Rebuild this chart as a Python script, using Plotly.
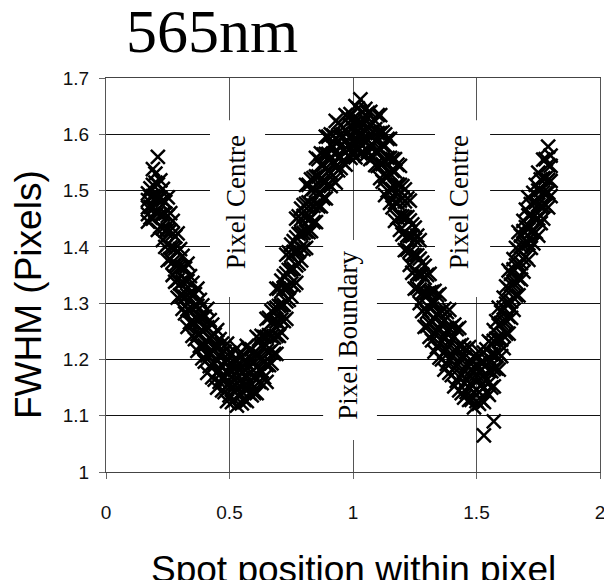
import plotly.graph_objects as go

# Column set A of the cloud (spot position, pixels)
x_pos_a = [0.17, 0.19, 0.21, 0.23, 0.25, 0.27, 0.29, 0.31, 0.33, 0.35,
           0.37, 0.39, 0.41, 0.43, 0.45, 0.47, 0.49, 0.51, 0.53, 0.55,
           0.57, 0.59, 0.61, 0.63, 0.65, 0.67, 0.69, 0.71, 0.73, 0.75,
           0.77, 0.79, 0.81, 0.83, 0.85, 0.87, 0.89, 0.91, 0.93, 0.95,
           0.97, 0.99, 1.01, 1.03, 1.05, 1.07, 1.09, 1.11, 1.13, 1.15,
           1.17, 1.19, 1.21, 1.23, 1.25, 1.27, 1.29, 1.31, 1.33, 1.35,
           1.37, 1.39, 1.41, 1.43, 1.45, 1.47, 1.49, 1.51, 1.53, 1.55,
           1.57, 1.59, 1.61, 1.63, 1.65, 1.67, 1.69, 1.71, 1.73, 1.75,
           1.77, 1.79]
# FWHM (pixels), from the bottom of the band to its top
fwhm_a1 = [1.445, 1.450, 1.430, 1.412, 1.376, 1.350, 1.310, 1.290, 1.258, 1.242,
           1.215, 1.202, 1.176, 1.168, 1.150, 1.145, 1.126, 1.124, 1.118, 1.122,
           1.126, 1.136, 1.140, 1.158, 1.160, 1.193, 1.210, 1.248, 1.272, 1.312,
           1.336, 1.376, 1.398, 1.428, 1.444, 1.472, 1.486, 1.508, 1.514, 1.540,
           1.546, 1.558, 1.559, 1.566, 1.562, 1.556, 1.545, 1.522, 1.492, 1.478,
           1.446, 1.430, 1.394, 1.368, 1.326, 1.300, 1.258, 1.240, 1.214, 1.203,
           1.182, 1.176, 1.152, 1.145, 1.132, 1.128, 1.115, 1.121, 1.124, 1.137,
           1.152, 1.182, 1.220, 1.246, 1.288, 1.314, 1.356, 1.377, 1.406, 1.420,
           1.450, 1.470]
fwhm_a2 = [1.458, 1.470, 1.461, 1.433, 1.405, 1.373, 1.341, 1.313, 1.289, 1.265,
           1.245, 1.225, 1.207, 1.191, 1.178, 1.166, 1.154, 1.147, 1.145, 1.143,
           1.149, 1.155, 1.165, 1.179, 1.190, 1.216, 1.242, 1.271, 1.303, 1.335,
           1.367, 1.399, 1.427, 1.451, 1.475, 1.495, 1.515, 1.531, 1.543, 1.560,
           1.568, 1.576, 1.581, 1.583, 1.585, 1.577, 1.569, 1.547, 1.525, 1.503,
           1.479, 1.455, 1.426, 1.392, 1.358, 1.324, 1.290, 1.264, 1.246, 1.228,
           1.214, 1.200, 1.185, 1.169, 1.158, 1.150, 1.142, 1.142, 1.150, 1.158,
           1.183, 1.211, 1.242, 1.276, 1.310, 1.344, 1.378, 1.406, 1.428, 1.450,
           1.472, 1.497]
fwhm_a3 = [1.470, 1.490, 1.486, 1.458, 1.430, 1.398, 1.366, 1.338, 1.314, 1.290,
           1.270, 1.250, 1.232, 1.216, 1.200, 1.188, 1.176, 1.169, 1.167, 1.165,
           1.171, 1.177, 1.187, 1.201, 1.215, 1.241, 1.267, 1.296, 1.328, 1.360,
           1.392, 1.424, 1.452, 1.476, 1.500, 1.520, 1.540, 1.556, 1.568, 1.580,
           1.588, 1.596, 1.601, 1.603, 1.605, 1.597, 1.589, 1.574, 1.552, 1.530,
           1.506, 1.482, 1.453, 1.419, 1.385, 1.351, 1.317, 1.291, 1.273, 1.255,
           1.241, 1.227, 1.212, 1.196, 1.180, 1.172, 1.164, 1.164, 1.172, 1.180,
           1.208, 1.236, 1.267, 1.301, 1.335, 1.369, 1.403, 1.431, 1.453, 1.475,
           1.497, 1.519]
fwhm_a4 = [1.483, 1.510, 1.511, 1.483, 1.455, 1.423, 1.391, 1.363, 1.339, 1.315,
           1.295, 1.275, 1.257, 1.241, 1.223, 1.211, 1.199, 1.192, 1.190, 1.188,
           1.194, 1.200, 1.210, 1.224, 1.240, 1.266, 1.292, 1.321, 1.353, 1.385,
           1.417, 1.449, 1.477, 1.501, 1.525, 1.545, 1.565, 1.581, 1.593, 1.600,
           1.608, 1.616, 1.621, 1.623, 1.625, 1.617, 1.609, 1.602, 1.580, 1.558,
           1.534, 1.510, 1.481, 1.447, 1.413, 1.379, 1.345, 1.319, 1.301, 1.283,
           1.269, 1.255, 1.240, 1.224, 1.203, 1.195, 1.187, 1.187, 1.195, 1.203,
           1.233, 1.261, 1.292, 1.326, 1.360, 1.394, 1.428, 1.456, 1.478, 1.500,
           1.522, 1.545]
fwhm_a5 = [1.495, 1.538, 1.560, 1.503, 1.488, 1.446, 1.424, 1.384, 1.370, 1.336,
           1.326, 1.296, 1.290, 1.262, 1.252, 1.228, 1.228, 1.210, 1.220, 1.206,
           1.224, 1.218, 1.240, 1.242, 1.272, 1.286, 1.326, 1.340, 1.386, 1.404,
           1.450, 1.468, 1.510, 1.520, 1.558, 1.566, 1.596, 1.600, 1.624, 1.616,
           1.634, 1.636, 1.650, 1.662, 1.645, 1.640, 1.624, 1.634, 1.600, 1.592,
           1.556, 1.544, 1.502, 1.482, 1.434, 1.412, 1.366, 1.352, 1.322, 1.316,
           1.290, 1.288, 1.262, 1.256, 1.220, 1.222, 1.206, 1.214, 1.212, 1.232,
           1.252, 1.292, 1.310, 1.358, 1.378, 1.426, 1.446, 1.488, 1.496, 1.532,
           1.555, 1.578]

# Column set B of the cloud (in between set A)
x_pos_b = [0.18, 0.20, 0.22, 0.24, 0.26, 0.28, 0.30, 0.32, 0.34, 0.36,
           0.38, 0.40, 0.42, 0.44, 0.46, 0.48, 0.50, 0.52, 0.54, 0.56,
           0.58, 0.60, 0.62, 0.64, 0.66, 0.68, 0.70, 0.72, 0.74, 0.76,
           0.78, 0.80, 0.82, 0.84, 0.86, 0.88, 0.90, 0.92, 0.94, 0.96,
           0.98, 1.00, 1.02, 1.04, 1.06, 1.08, 1.10, 1.12, 1.14, 1.16,
           1.18, 1.20, 1.22, 1.24, 1.26, 1.28, 1.30, 1.32, 1.34, 1.36,
           1.38, 1.40, 1.42, 1.44, 1.46, 1.48, 1.50, 1.52, 1.54, 1.56,
           1.58, 1.60, 1.62, 1.64, 1.66, 1.68, 1.70, 1.72, 1.74, 1.76,
           1.78, 1.80]
fwhm_b1 = [1.452, 1.462, 1.436, 1.400, 1.378, 1.338, 1.314, 1.282, 1.266, 1.236,
           1.224, 1.196, 1.188, 1.164, 1.160, 1.142, 1.136, 1.128, 1.134, 1.128,
           1.140, 1.140, 1.160, 1.168, 1.190, 1.210, 1.242, 1.268, 1.306, 1.332,
           1.370, 1.396, 1.426, 1.444, 1.472, 1.486, 1.512, 1.518, 1.536, 1.550,
           1.562, 1.566, 1.572, 1.568, 1.570, 1.558, 1.544, 1.516, 1.500, 1.470,
           1.452, 1.422, 1.395, 1.354, 1.327, 1.286, 1.259, 1.234, 1.222, 1.200,
           1.192, 1.172, 1.162, 1.140, 1.142, 1.128, 1.126, 1.128, 1.142, 1.150,
           1.184, 1.206, 1.246, 1.274, 1.314, 1.342, 1.382, 1.398, 1.426, 1.442,
           1.474, 1.490]
fwhm_b2 = [1.471, 1.487, 1.457, 1.429, 1.399, 1.367, 1.335, 1.311, 1.287, 1.265,
           1.245, 1.225, 1.209, 1.193, 1.181, 1.169, 1.157, 1.155, 1.153, 1.155,
           1.161, 1.167, 1.181, 1.195, 1.213, 1.239, 1.265, 1.297, 1.329, 1.361,
           1.393, 1.425, 1.449, 1.473, 1.495, 1.515, 1.535, 1.547, 1.559, 1.572,
           1.580, 1.588, 1.590, 1.592, 1.589, 1.581, 1.569, 1.547, 1.525, 1.502,
           1.478, 1.454, 1.420, 1.386, 1.352, 1.318, 1.284, 1.266, 1.248, 1.232,
           1.218, 1.204, 1.188, 1.172, 1.163, 1.155, 1.147, 1.155, 1.163, 1.179,
           1.207, 1.235, 1.269, 1.303, 1.337, 1.371, 1.405, 1.427, 1.449, 1.471,
           1.495, 1.517]
fwhm_b3 = [1.489, 1.514, 1.487, 1.459, 1.429, 1.397, 1.365, 1.341, 1.317, 1.295,
           1.275, 1.255, 1.239, 1.223, 1.208, 1.196, 1.184, 1.182, 1.180, 1.182,
           1.188, 1.194, 1.208, 1.222, 1.243, 1.269, 1.295, 1.327, 1.359, 1.391,
           1.423, 1.455, 1.479, 1.503, 1.525, 1.545, 1.565, 1.577, 1.589, 1.596,
           1.604, 1.612, 1.614, 1.616, 1.613, 1.605, 1.602, 1.580, 1.558, 1.535,
           1.511, 1.487, 1.453, 1.419, 1.385, 1.351, 1.317, 1.299, 1.281, 1.265,
           1.251, 1.237, 1.221, 1.205, 1.190, 1.182, 1.174, 1.182, 1.190, 1.209,
           1.237, 1.265, 1.299, 1.333, 1.367, 1.401, 1.435, 1.457, 1.479, 1.501,
           1.522, 1.544]
fwhm_b4 = [1.504, 1.530, 1.518, 1.480, 1.460, 1.418, 1.396, 1.362, 1.348, 1.316,
           1.306, 1.276, 1.270, 1.244, 1.236, 1.214, 1.212, 1.200, 1.208, 1.198,
           1.216, 1.212, 1.236, 1.240, 1.274, 1.290, 1.326, 1.348, 1.390, 1.410,
           1.454, 1.474, 1.510, 1.522, 1.556, 1.564, 1.596, 1.598, 1.620, 1.612,
           1.630, 1.628, 1.646, 1.640, 1.638, 1.620, 1.634, 1.604, 1.592, 1.556,
           1.546, 1.508, 1.486, 1.440, 1.420, 1.372, 1.350, 1.320, 1.314, 1.286,
           1.284, 1.258, 1.254, 1.226, 1.218, 1.198, 1.202, 1.196, 1.218, 1.228,
           1.268, 1.284, 1.330, 1.352, 1.398, 1.420, 1.466, 1.476, 1.510, 1.520,
           1.556, 1.562]

# Two low outliers in the second trough
x_outlier = [1.53, 1.57]
fwhm_outlier = [1.065, 1.090]

x_ticks = [0, 0.5, 1, 1.5, 2]
y_ticks = [1, 1.1, 1.2, 1.3, 1.4, 1.5, 1.6, 1.7]

label_text = ["Pixel Centre", "Pixel Boundary", "Pixel Centre"]
label_x = [0.526, 0.980, 1.429]
label_y = [1.479, 1.242, 1.479]
box_x0 = [0.421, 0.879, 1.332]
box_x1 = [0.644, 1.097, 1.555]
box_y0 = [1.311, 1.057, 1.311]
box_y1 = [1.625, 1.412, 1.625]

all_x = x_pos_a * 5 + x_pos_b * 4 + x_outlier
all_y = (fwhm_a1 + fwhm_a2 + fwhm_a3 + fwhm_a4 + fwhm_a5
         + fwhm_b1 + fwhm_b2 + fwhm_b3 + fwhm_b4 + fwhm_outlier)

fig = go.Figure()
fig.add_trace(go.Scatter(
    x=all_x, y=all_y, mode="markers",
    marker=dict(symbol="x-thin", size=14, color="black",
                line=dict(color="black", width=2.5)),
    showlegend=False, hoverinfo="skip"))

shapes = []
for i in range(len(label_text)):
    shapes.append(dict(type="rect", xref="x", yref="y",
                       x0=box_x0[i], x1=box_x1[i], y0=box_y0[i], y1=box_y1[i],
                       fillcolor="white", line=dict(width=0), layer="between"))

annotations = []
for i in range(len(label_text)):
    annotations.append(dict(x=label_x[i], y=label_y[i], xref="x", yref="y",
                            text=label_text[i], showarrow=False, textangle=-90,
                            font=dict(family="Liberation Serif, Times New Roman, serif",
                                      size=27, color="black")))
annotations.append(dict(x=0.2146, y=1.0 + (78 - 31) / 394, xref="paper", yref="paper",
                        text="565nm", showarrow=False, xanchor="center", yanchor="middle",
                        font=dict(family="Liberation Serif, Times New Roman, serif",
                                  size=62, color="black")))
annotations.append(dict(x=-0.1559, y=0.4518, xref="paper", yref="paper",
                        text="FWHM (Pixels)", showarrow=False, textangle=-90,
                        xanchor="center", yanchor="middle",
                        font=dict(family="Liberation Sans, Arial, sans-serif",
                                  size=37, color="black")))
annotations.append(dict(x=0.5, y=-0.2465, xref="paper", yref="paper",
                        text="Spot position within pixel", showarrow=False,
                        xanchor="center", yanchor="middle",
                        font=dict(family="Liberation Sans, Arial, sans-serif",
                                  size=37, color="black")))

fig.update_layout(
    width=604, height=580,
    margin=dict(l=106, r=4, t=78, b=108, autoexpand=False),
    paper_bgcolor="white", plot_bgcolor="white",
    shapes=shapes, annotations=annotations,
    font=dict(family="Liberation Sans, Arial, sans-serif", size=19, color="#111"),
)
fig.update_xaxes(
    range=[0, 2], tickvals=x_ticks, showgrid=True, gridcolor="#555", gridwidth=1,
    showline=True, linecolor="#444", linewidth=1, mirror=True,
    ticks="outside", ticklen=6, tickcolor="#666", zeroline=False, automargin=False,
    ticklabelstandoff=17, ticklabeloverflow="allow", tickfont=dict(size=19))
fig.update_yaxes(
    range=[1, 1.7], tickvals=y_ticks, showgrid=True, gridcolor="#111", gridwidth=1,
    showline=True, linecolor="#555", linewidth=1, mirror=True,
    ticks="outside", ticklen=6, tickcolor="#666", zeroline=False, automargin=False,
    ticklabelstandoff=6, ticklabeloverflow="allow", tickfont=dict(size=19))

fig.write_html("out.html", config={"displayModeBar": False},
               post_script="document.body.style.margin='0px';")
